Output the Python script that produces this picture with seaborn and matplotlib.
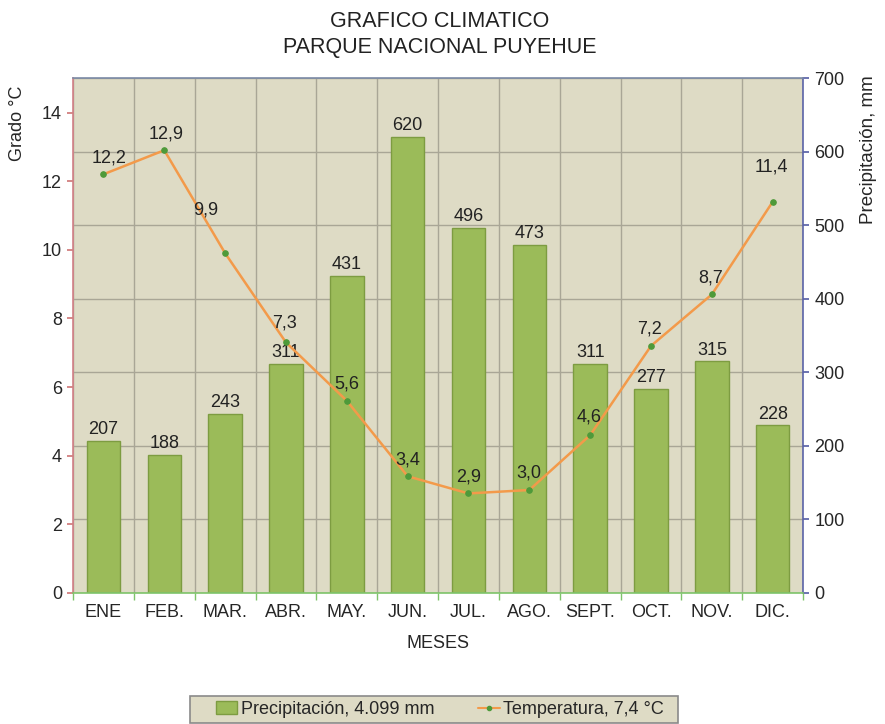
import matplotlib
matplotlib.use("Agg")
import matplotlib.pyplot as plt
import matplotlib.patches as mpatches
import matplotlib.lines as mlines
import numpy as np
import pandas as pd
import seaborn as sns

meses = ['ENE', 'FEB.', 'MAR.', 'ABR.', 'MAY.', 'JUN.', 'JUL.', 'AGO.', 'SEPT.', 'OCT.', 'NOV.', 'DIC.']
precipitacion = [207, 188, 243, 311, 431, 620, 496, 473, 311, 277, 315, 228]
temperatura = [12.2, 12.9, 9.9, 7.3, 5.6, 3.4, 2.9, 3.0, 4.6, 7.2, 8.7, 11.4]

# label offsets for the temperature values (points), hand placed like the original
temp_offsets = [(4, 12), (1, 12), (-14, 31), (-1, 14), (0, 12), (0, 12),
                (0, 12), (0, 12), (-1, 13), (-1, 12), (-1, 12), (-1, 25)]

df = pd.DataFrame({'mes': meses, 'pos': np.arange(len(meses)),
                   'pp': precipitacion, 'temp': temperatura})

sns.set_theme(style='white')
plt.rcParams['font.family'] = ['Liberation Sans', 'DejaVu Sans']

bg = '#dedbc5'
grid_col = '#a9a696'
bar_col = '#9bbb59'
line_col = '#f39a4a'

fig = plt.figure(figsize=(8.85, 7.24), dpi=100)
ax = fig.add_axes([0.0825, 0.181, 0.825, 0.711])
ax.set_facecolor(bg)

# precipitation bars (right scale)
sns.barplot(data=df, x='mes', y='pp', color=bar_col, width=0.55,
            edgecolor='#7d9c41', linewidth=1, saturation=1, ax=ax, zorder=2)
for c in ax.containers:
    ax.bar_label(c, fmt='%d', fontsize=13, padding=2, color='#222222')

ax.set_ylim(0, 700)
ax.set_xlim(-0.5, len(meses) - 0.5)
ax.set_yticks(range(0, 701, 100))
ax.set_xticks(np.arange(len(meses) + 1) - 0.5, minor=True)
ax.grid(axis='y', which='major', color=grid_col, linewidth=1, zorder=0)
ax.grid(axis='x', which='minor', color=grid_col, linewidth=1, zorder=0)
ax.set_axisbelow(True)
ax.tick_params(axis='x', which='major', labelsize=13, length=0, pad=8)
ax.tick_params(axis='x', which='minor', length=5, color='#7ec46a', bottom=True)
ax.set_xlabel('MESES', fontsize=13, labelpad=10)
for s in ax.spines.values():
    s.set_visible(False)

# temperature line (left scale)
ax2 = ax.twinx()
sns.lineplot(data=df, x='pos', y='temp', color=line_col, linewidth=1.8,
             marker='o', markersize=4, markerfacecolor='#4e9a3a',
             markeredgecolor='#4e9a3a', ax=ax2)
for p, t, off in zip(df['pos'], df['temp'], temp_offsets):
    ax2.annotate(f'{t:.1f}'.replace('.', ','), (p, t), xytext=off,
                 textcoords='offset points', ha='center', va='center',
                 fontsize=13, color='#222222')
ax2.set_ylim(0, 15)
ax2.set_xlim(-0.5, len(meses) - 0.5)
ax2.yaxis.tick_left()
ax2.yaxis.set_label_position('left')
ax2.set_yticks(range(0, 15, 2))
ax2.tick_params(axis='y', labelsize=13, length=4, color='#d07a7a', pad=4)
ax2.set_ylabel('Grado °C', fontsize=13, va='center')
ax2.yaxis.set_label_coords(-0.076, 0.913)
ax2.set_xlabel('')
ax2.spines['left'].set_color('#d27f86')
ax2.spines['right'].set_color('#5b63a8')
ax2.spines['top'].set_color('#7b8aa6')
ax2.spines['bottom'].set_color('#7ec46a')
for s in ax2.spines.values():
    s.set_linewidth(1.2)

# twinx moved the bar axis ticks to the left, put them back on the right
ax.yaxis.tick_right()
ax.yaxis.set_label_position('right')
ax.tick_params(axis='y', labelsize=13, length=4, color='#5b63a8', pad=4,
               left=False, labelleft=False, right=True, labelright=True)
ax.set_ylabel('Precipitación, mm', fontsize=13.5, va='center')
ax.yaxis.set_label_coords(1.09, 0.862)

fig.text(0.497, 0.985, 'GRAFICO CLIMATICO\nPARQUE NACIONAL PUYEHUE', ha='center',
         va='top', fontsize=15.5, color='#222222', linespacing=1.35)

# legend box like the excel one
fig.patches.append(mpatches.Rectangle((0.2147, 0.0014), 0.5514, 0.0373,
                                      transform=fig.transFigure, facecolor=bg,
                                      edgecolor='#8a8a8a', linewidth=1.2))
h1 = mpatches.Patch(facecolor=bar_col, edgecolor='#7d9c41')
h2 = mlines.Line2D([], [], color=line_col, marker='o', markersize=3,
                   markerfacecolor='#4e9a3a', markeredgecolor='#4e9a3a')
leg = fig.legend([h1, h2], ['Precipitación, 4.099 mm', 'Temperatura, 7,4 °C'],
                 loc='center', bbox_to_anchor=(0.497, 0.02), ncol=2,
                 fontsize=13, frameon=False, borderpad=0.1,
                 handlelength=1.2, handletextpad=0.2, columnspacing=2.4)

fig.savefig('out.png', dpi=100)
